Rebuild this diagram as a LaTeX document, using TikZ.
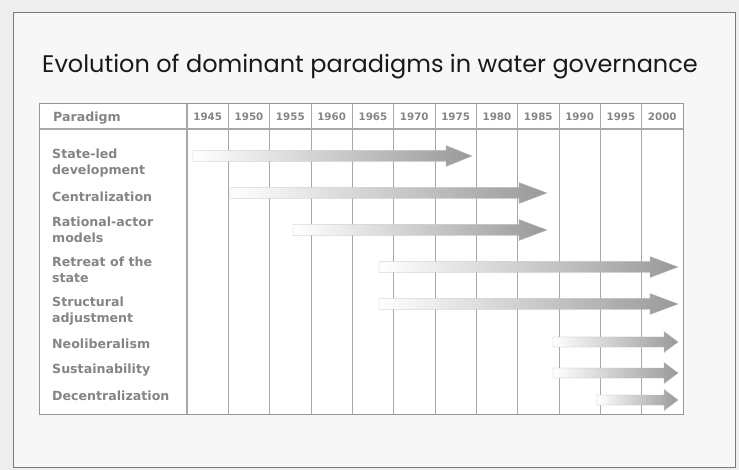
\documentclass[tikz,border=0pt]{standalone}
\usepackage{fontspec}
\setmainfont{DejaVu Sans}
\newfontfamily\titlefont{Poppins}
\usetikzlibrary{positioning}
\definecolor{pagegray}{HTML}{EEEEEE}
\definecolor{framegray}{HTML}{7A7A7A}
\definecolor{gridgray}{HTML}{A8A8A8}
\definecolor{labelgray}{HTML}{858585}

\begin{document}
\begin{tikzpicture}[x=1pt,y=-1pt,
  label/.style={anchor=west,align=left,font=\bfseries\fontsize{12.6}{15.5}\selectfont,text=labelgray,inner sep=0pt},
  year/.style={font=\bfseries\fontsize{10.3}{12}\selectfont,text=labelgray,inner sep=0pt},
  bar/.style={left color=white,right color=gray!80,draw=gray!55,line width=0.4pt}]
\useasboundingbox (0,0) rectangle (739,470);
\fill [pagegray] (0,0) rectangle (739,470);
\draw [framegray,line width=1pt,fill=gray!6] (13,13) rectangle (735,467);

\node (title) [anchor=base west,inner sep=0pt,font=\titlefont\fontsize{24}{28}\selectfont,text=black!90] at (42,73) {Evolution of dominant paradigms in water governance};

% table
\fill [white] (39,104) rectangle (683,414);
\foreach \k in {1,...,11}
  \draw [gridgray,line width=0.8pt] (187+\k*41.33,104) -- (187+\k*41.33,414);
\draw [gridgray,line width=1.6pt] (187,104) -- (187,414);
\draw [gridgray,line width=1.6pt] (39,129) -- (683,129);
\draw [gridgray!90!black,line width=1pt] (39,104) rectangle (683,414);

\node (head) [label] at (53,118) {Paradigm};
\foreach \yr [count=\k from 0] in {1945,1950,1955,1960,1965,1970,1975,1980,1985,1990,1995,2000}
  \node (y\yr) [year] at (187+\k*41.33+20.67,117) {\yr};

\node (p1) [label] at (52,163) {State-led\\development};
\node (p2) [label] at (52,197) {Centralization};
\node (p3) [label] at (52,230) {Rational-actor\\models};
\node (p4) [label] at (52,270) {Retreat of the\\state};
\node (p5) [label] at (52,311) {Structural\\adjustment};
\node (p6) [label] at (52,344) {Neoliberalism};
\node (p7) [label] at (52,370) {Sustainability};
\node (p8) [label] at (52,396) {Decentralization};

% arrows: start, tip, y, head length
\foreach \s/\t/\y/\h in {193/472/156/26, 230/547/193/28, 293/547/230/28, 379/678/267/28, 379/678/304/28}
  \shade [bar] (\s,\y-5.5) -- (\t-\h,\y-5.5) -- (\t-\h,\y-10.5) -- (\t,\y) -- (\t-\h,\y+10.5) -- (\t-\h,\y+5.5) -- (\s,\y+5.5) -- cycle;
\foreach \s/\t/\y in {553/678/342, 553/678/373, 597/678/400}
  \shade [bar] (\s,\y-5) -- (\t-14,\y-5) -- (\t-14,\y-10.5) -- (\t,\y) -- (\t-14,\y+10.5) -- (\t-14,\y+5) -- (\s,\y+5) -- cycle;
\end{tikzpicture}
\end{document}
